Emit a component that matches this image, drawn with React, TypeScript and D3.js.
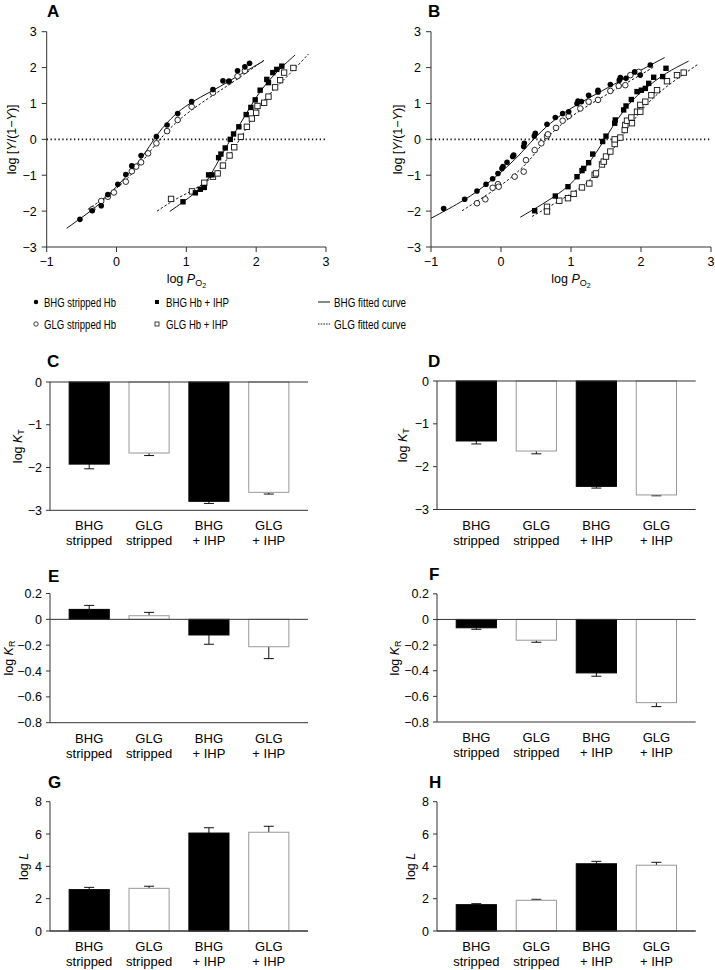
import React from 'react';
import * as d3 from 'd3';

const FONT = '"Liberation Sans", Arial, Helvetica, sans-serif';

type Pt = [number, number];

// ---------- Panel A (Hill plots) ----------
const A_BHG_STRIPPED: Pt[] = [
  [-0.524, -2.23], [-0.348, -1.99], [-0.219, -1.85], [-0.124, -1.54], [0.019, -1.25],
  [0.133, -0.98], [0.219, -0.74], [0.352, -0.45], [0.571, 0.08], [0.724, 0.40],
  [0.876, 0.72], [1.076, 1.05], [1.381, 1.39], [1.524, 1.63], [1.61, 1.62],
  [1.733, 1.91], [1.838, 2.02], [1.905, 2.12],
];
const A_GLG_STRIPPED: Pt[] = [
  [-0.348, -1.95], [-0.219, -1.72], [-0.124, -1.60], [-0.038, -1.48], [0.133, -1.18],
  [0.219, -0.89], [0.281, -0.76], [0.352, -0.64], [0.452, -0.39], [0.571, -0.11],
  [0.724, 0.23], [0.876, 0.54], [1.076, 0.91], [1.381, 1.30], [1.61, 1.61],
  [1.733, 1.76], [1.838, 1.91],
];
const A_BHG_IHP: Pt[] = [
  [0.952, -1.74], [1.129, -1.49], [1.20, -1.39], [1.257, -1.34], [1.319, -0.99],
  [1.367, -0.99], [1.462, -0.51], [1.495, -0.41], [1.557, -0.24], [1.629, 0.0],
  [1.676, 0.15], [1.752, 0.35], [1.857, 0.69], [1.924, 0.89], [1.986, 1.10],
  [2.057, 1.37], [2.152, 1.67], [2.176, 1.58], [2.238, 1.86], [2.295, 1.95], [2.367, 2.04],
];
const A_GLG_IHP: Pt[] = [
  [0.781, -1.66], [1.081, -1.45], [1.257, -1.21], [1.381, -1.04], [1.448, -0.95],
  [1.524, -0.73], [1.619, -0.45], [1.686, -0.22], [1.781, 0.07], [1.867, 0.35],
  [1.938, 0.58], [2.0, 0.74], [2.019, 0.93], [2.114, 1.02], [2.176, 1.19],
  [2.271, 1.45], [2.343, 1.65], [2.40, 1.86], [2.533, 1.99],
];
const A_FIT_BHG_STRIPPED: Pt[] = [
  [-0.714, -2.48], [-0.514, -2.20], [-0.229, -1.80], [0.01, -1.29], [0.248, -0.82],
  [0.438, -0.30], [0.581, 0.14], [0.724, 0.47], [0.914, 0.84], [1.2, 1.18],
  [1.486, 1.47], [1.771, 1.81], [2.105, 2.18],
];
const A_FIT_GLG_STRIPPED: Pt[] = [
  [-0.41, -1.95], [-0.229, -1.71], [-0.038, -1.43], [0.152, -1.11], [0.343, -0.69],
  [0.533, -0.20], [0.724, 0.23], [0.914, 0.585], [1.2, 1.0], [1.486, 1.36],
  [1.771, 1.73], [2.114, 2.21],
];
const A_FIT_BHG_IHP: Pt[] = [
  [0.762, -2.01], [0.952, -1.75], [1.152, -1.46], [1.295, -1.18], [1.414, -0.76],
  [1.533, -0.34], [1.652, 0.06], [1.771, 0.43], [1.89, 0.82], [2.01, 1.21],
  [2.152, 1.58], [2.343, 1.98], [2.557, 2.35],
];
const A_FIT_GLG_IHP: Pt[] = [
  [0.581, -2.0], [0.819, -1.69], [1.057, -1.46], [1.295, -1.18], [1.438, -0.95],
  [1.581, -0.56], [1.70, -0.20], [1.819, 0.17], [1.938, 0.585], [2.057, 0.96],
  [2.2, 1.28], [2.39, 1.65], [2.58, 2.02], [2.748, 2.38],
];

// ---------- Panel B (Hill plots) ----------
const B_BHG_STRIPPED: Pt[] = [
  [-0.819, -1.93], [-0.519, -1.67], [-0.343, -1.44], [-0.214, -1.25], [-0.119, -1.10],
  [-0.043, -0.95], [0.014, -0.81], [0.029, -0.76], [0.086, -0.64], [0.167, -0.48],
  [0.181, -0.44], [0.324, -0.20], [0.333, -0.11], [0.476, 0.09], [0.49, 0.17],
  [0.657, 0.42], [0.776, 0.61], [0.881, 0.72], [0.967, 0.77], [1.086, 1.0],
  [1.10, 1.07], [1.148, 1.05], [1.252, 1.23], [1.386, 1.37], [1.386, 1.32],
  [1.562, 1.53], [1.69, 1.65], [1.705, 1.72], [1.786, 1.70], [1.91, 1.88],
  [1.99, 1.79], [2.133, 2.07],
];
const B_GLG_STRIPPED: Pt[] = [
  [-0.343, -1.78], [-0.224, -1.67], [-0.119, -1.35], [-0.043, -1.25], [-0.033, -1.32],
  [0.195, -1.04], [0.324, -0.90], [0.357, -0.58], [0.481, -0.30], [0.576, -0.11],
  [0.657, 0.09], [0.671, 0.14], [0.786, 0.32], [0.881, 0.52], [0.967, 0.65],
  [1.133, 0.86], [1.252, 1.05], [1.386, 1.10], [1.562, 1.35], [1.681, 1.49],
  [1.776, 1.51], [1.848, 1.79], [1.967, 1.88],
];
const B_BHG_IHP: Pt[] = [
  [0.481, -1.99], [0.776, -1.58], [0.957, -1.32], [1.086, -1.04], [1.157, -0.87],
  [1.181, -0.81], [1.252, -0.65], [1.31, -0.41], [1.452, -0.06], [1.50, 0.09],
  [1.624, 0.45], [1.633, 0.54], [1.752, 0.82], [1.786, 0.93], [1.862, 1.11],
  [1.943, 1.33], [2.005, 1.37], [2.062, 1.42], [2.11, 1.56], [2.181, 1.73],
  [2.31, 1.75], [2.357, 1.98],
];
const B_GLG_IHP: Pt[] = [
  [0.657, -1.88], [0.657, -2.01], [0.833, -1.71], [0.957, -1.64], [1.038, -1.52],
  [1.157, -1.34], [1.262, -1.23], [1.338, -0.99], [1.357, -0.95], [1.443, -0.70],
  [1.467, -0.62], [1.50, -0.48], [1.562, -0.34], [1.624, -0.13], [1.624, 0.0],
  [1.705, 0.05], [1.767, 0.26], [1.776, 0.40], [1.80, 0.52], [1.862, 0.61],
  [1.871, 0.45], [1.943, 0.77], [1.99, 0.77], [1.99, 0.96], [2.062, 1.05],
  [2.148, 1.23], [2.229, 1.37], [2.371, 1.62], [2.514, 1.79], [2.61, 1.86],
];
const B_FIT_BHG_STRIPPED: Pt[] = [
  [-1.0, -2.20], [-0.5, -1.68], [-0.2, -1.25], [0.1, -0.75], [0.3, -0.36],
  [0.45, -0.02], [0.7, 0.46], [1.0, 0.88], [1.3, 1.20], [1.6, 1.52],
  [2.0, 1.93], [2.338, 2.28],
];
const B_FIT_GLG_STRIPPED: Pt[] = [
  [-0.557, -1.99], [-0.2, -1.55], [0.1, -1.15], [0.4, -0.63], [0.6, -0.08],
  [0.8, 0.33], [1.1, 0.78], [1.4, 1.12], [1.7, 1.47], [2.0, 1.80], [2.2, 2.04],
];
const B_FIT_BHG_IHP: Pt[] = [
  [0.276, -2.17], [0.6, -1.80], [0.9, -1.42], [1.1, -1.05], [1.3, -0.55],
  [1.45, -0.10], [1.6, 0.38], [1.75, 0.80], [1.9, 1.15], [2.1, 1.48],
  [2.35, 1.85], [2.68, 2.18],
];
const B_FIT_GLG_IHP: Pt[] = [
  [0.443, -2.15], [0.8, -1.75], [1.1, -1.40], [1.3, -1.10], [1.45, -0.70],
  [1.6, -0.28], [1.75, 0.15], [1.9, 0.55], [2.05, 0.92], [2.25, 1.30],
  [2.5, 1.67], [2.82, 2.10],
];

const HILL_X_TICKS = [-1, 0, 1, 2, 3];
const HILL_Y_TICKS = [3, 2, 1, 0, -1, -2, -3];

// ---------- Bar panels ----------
const CATEGORIES: string[][] = [
  ['BHG', 'stripped'], ['GLG', 'stripped'], ['BHG', '+ IHP'], ['GLG', '+ IHP'],
];
const KT_TICKS = [0, -1, -2, -3];
const KR_TICKS = [0.2, 0, -0.2, -0.4, -0.6, -0.8];
const L_TICKS = [8, 6, 4, 2, 0];

const C_VALUES = [-1.92, -1.66, -2.79, -2.58];
const C_ERRORS = [0.11, 0.06, 0.05, 0.04];
const D_VALUES = [-1.40, -1.635, -2.46, -2.66];
const D_ERRORS = [0.07, 0.065, 0.04, 0.02];
const E_VALUES = [0.077, 0.028, -0.121, -0.212];
const E_ERRORS = [0.031, 0.026, 0.072, 0.092];
const F_VALUES = [-0.065, -0.162, -0.417, -0.649];
const F_ERRORS = [0.012, 0.016, 0.026, 0.031];
const G_VALUES = [2.56, 2.64, 6.06, 6.11];
const G_ERRORS = [0.14, 0.13, 0.33, 0.37];
const H_VALUES = [1.63, 1.90, 4.16, 4.07];
const H_ERRORS = [0.06, 0.06, 0.15, 0.18];

const LEGEND_POINTS = ['BHG stripped Hb', 'GLG stripped Hb', 'BHG Hb + IHP', 'GLG Hb + IHP'];
const LEGEND_CURVES = ['BHG fitted curve', 'GLG fitted curve'];

const fmt = (v: number) => {
  if (Math.abs(v) < 1e-9) return '0';
  const s = String(Math.round(Math.abs(v) * 100) / 100);
  return (v < 0 ? '\u2212' : '') + s;
};

const AXIS = '#333';

type HillProps = {
  x0: number; x1: number; yTop: number; yBot: number;
  letter: string; letterX: number; titleX: number;
  bhgS: Pt[]; glgS: Pt[]; bhgI: Pt[]; glgI: Pt[];
  fits: { pts: Pt[]; dashed: boolean }[];
};

function HillPanel(p: HillProps) {
  const x = d3.scaleLinear().domain([-1, 3]).range([p.x0, p.x1]);
  const y = d3.scaleLinear().domain([-3, 3]).range([p.yBot, p.yTop]);
  const line = d3.line<Pt>().x(d => x(d[0])).y(d => y(d[1])).curve(d3.curveBasis);
  const r = 2.8;
  const s = 5.4;
  return (
    <g>
      <text x={p.letterX} y={17} fontSize={17} fontWeight="bold" fontFamily={FONT}>{p.letter}</text>
      <line x1={p.x0} x2={p.x1} y1={y(0)} y2={y(0)} stroke="#111" strokeWidth={1.6} strokeDasharray="1.3,2.6" />
      <line x1={p.x0} x2={p.x0} y1={p.yTop} y2={p.yBot} stroke={AXIS} strokeWidth={1} />
      <line x1={p.x0} x2={p.x1} y1={p.yBot} y2={p.yBot} stroke={AXIS} strokeWidth={1} />
      {HILL_Y_TICKS.map(t => (
        <g key={'yt' + t}>
          <line x1={p.x0 - 5} x2={p.x0} y1={y(t)} y2={y(t)} stroke={AXIS} />
          <text x={p.x0 - 10} y={y(t)} dy="0.36em" textAnchor="end" fontSize={12.5} fontFamily={FONT}>{fmt(t)}</text>
        </g>
      ))}
      {HILL_X_TICKS.map(t => (
        <g key={'xt' + t}>
          <line x1={x(t)} x2={x(t)} y1={p.yBot} y2={p.yBot + 5} stroke={AXIS} />
          <text x={x(t)} y={p.yBot + 19} textAnchor="middle" fontSize={12.5} fontFamily={FONT}>{fmt(t)}</text>
        </g>
      ))}
      <text transform={`translate(${p.titleX},${(p.yTop + p.yBot) / 2}) rotate(-90)`} textAnchor="middle"
        dominantBaseline="central" fontSize={12.5} fontFamily={FONT}>
        log [<tspan fontStyle="italic">Y</tspan>/(1{'\u2212'}<tspan fontStyle="italic">Y</tspan>)]
      </text>
      <text x={(p.x0 + p.x1) / 2} y={283} textAnchor="middle" fontSize={12.5} fontFamily={FONT}>
        log <tspan fontStyle="italic">P</tspan><tspan fontSize={9} dy={3}>O</tspan><tspan fontSize={7} dy={2}>2</tspan>
      </text>
      {p.fits.map((f, i) => (
        <path key={'f' + i} d={line(f.pts) || ''} fill="none" stroke="#111" strokeWidth={1}
          strokeDasharray={f.dashed ? '2.5,2' : undefined} />
      ))}
      {p.glgS.map((d, i) => (
        <circle key={'gs' + i} cx={x(d[0])} cy={y(d[1])} r={r} fill="#fff" stroke="#111" strokeWidth={0.9} />
      ))}
      {p.bhgS.map((d, i) => (
        <circle key={'bs' + i} cx={x(d[0])} cy={y(d[1])} r={r} fill="#000" />
      ))}
      {p.glgI.map((d, i) => (
        <rect key={'gi' + i} x={x(d[0]) - s / 2} y={y(d[1]) - s / 2} width={s} height={s} fill="#fff" stroke="#111" strokeWidth={0.9} />
      ))}
      {p.bhgI.map((d, i) => (
        <rect key={'bi' + i} x={x(d[0]) - s / 2} y={y(d[1]) - s / 2} width={s} height={s} fill="#000" />
      ))}
    </g>
  );
}

type BarProps = {
  x0: number; x1: number; yTop: number; yBot: number;
  domain: [number, number]; ticks: number[];
  values: number[]; errors: number[];
  letter: string; letterX: number; letterY: number; titleX: number;
  sub?: string; sym: string;
};

function BarPanel(p: BarProps) {
  const x = d3.scaleBand<number>().domain(CATEGORIES.map((_, i) => i)).range([p.x0, p.x1])
    .paddingInner(0.33).paddingOuter(0.32);
  const y = d3.scaleLinear().domain(p.domain).range([p.yBot, p.yTop]);
  const y0 = y(0);
  return (
    <g>
      <text x={p.letterX} y={p.letterY} fontSize={17} fontWeight="bold" fontFamily={FONT}>{p.letter}</text>
      {p.values.map((v, i) => {
        const bx = x(i) as number;
        const bw = x.bandwidth();
        const yv = y(v);
        const black = i % 2 === 0;
        const end = v + Math.sign(v) * p.errors[i];
        const cx = bx + bw / 2;
        return (
          <g key={'b' + i}>
            <line x1={cx} x2={cx} y1={yv} y2={y(end)} stroke="#111" strokeWidth={1} />
            <line x1={cx - 5} x2={cx + 5} y1={y(end)} y2={y(end)} stroke="#111" strokeWidth={1} />
            <rect x={bx} y={Math.min(yv, y0)} width={bw} height={Math.abs(yv - y0)}
              fill={black ? '#000' : '#fff'} stroke={black ? '#000' : '#999'} strokeWidth={1} />
          </g>
        );
      })}
      <line x1={p.x0} x2={p.x1} y1={y0} y2={y0} stroke={AXIS} strokeWidth={1} />
      <line x1={p.x0} x2={p.x1} y1={p.yBot} y2={p.yBot} stroke={AXIS} strokeWidth={1} />
      <line x1={p.x0} x2={p.x0} y1={p.yTop} y2={p.yBot} stroke={AXIS} strokeWidth={1} />
      {p.ticks.map(t => (
        <g key={'t' + t}>
          <line x1={p.x0 - 4} x2={p.x0} y1={y(t)} y2={y(t)} stroke={AXIS} />
          <text x={p.x0 - 8} y={y(t)} dy="0.36em" textAnchor="end" fontSize={12.5} fontFamily={FONT}>{fmt(t)}</text>
        </g>
      ))}
      {CATEGORIES.map((c, i) => {
        const cx = (x(i) as number) + x.bandwidth() / 2;
        return (
          <text key={'c' + i} x={cx} textAnchor="middle" fontSize={13} fontFamily={FONT}>
            <tspan x={cx} y={p.yBot + 20}>{c[0]}</tspan>
            <tspan x={cx} y={p.yBot + 35}>{c[1]}</tspan>
          </text>
        );
      })}
      <text transform={`translate(${p.titleX},${(p.yTop + p.yBot) / 2}) rotate(-90)`} textAnchor="middle"
        dominantBaseline="central" fontSize={12.5} fontFamily={FONT}>
        log <tspan fontStyle="italic">{p.sym}</tspan>
        {p.sub ? <tspan fontSize={9} dy={3}>{p.sub}</tspan> : null}
      </text>
    </g>
  );
}

function Legend() {
  const rows = [302, 324];
  return (
    <g fontFamily={FONT} fontSize={13.5}>
      <circle cx={36} cy={rows[0]} r={2.2} fill="#000" />
      <circle cx={36} cy={rows[1]} r={2.2} fill="#fff" stroke="#111" strokeWidth={0.8} />
      <rect x={155} y={rows[0] - 2} width={4} height={4} fill="#000" />
      <rect x={155} y={rows[1] - 2} width={4} height={4} fill="#fff" stroke="#111" strokeWidth={0.8} />
      <text x={44} y={rows[0] + 4.8} textLength={72} lengthAdjust="spacingAndGlyphs">{LEGEND_POINTS[0]}</text>
      <text x={44} y={rows[1] + 4.8} textLength={72} lengthAdjust="spacingAndGlyphs">{LEGEND_POINTS[1]}</text>
      <text x={166} y={rows[0] + 4.8} textLength={63} lengthAdjust="spacingAndGlyphs">{LEGEND_POINTS[2]}</text>
      <text x={166} y={rows[1] + 4.8} textLength={62} lengthAdjust="spacingAndGlyphs">{LEGEND_POINTS[3]}</text>
      <line x1={318} x2={330} y1={rows[0]} y2={rows[0]} stroke="#111" strokeWidth={1} />
      <line x1={318} x2={330} y1={rows[1]} y2={rows[1]} stroke="#111" strokeWidth={1} strokeDasharray="1.5,1.2" />
      <text x={334} y={rows[0] + 4.8} textLength={72} lengthAdjust="spacingAndGlyphs">{LEGEND_CURVES[0]}</text>
      <text x={334} y={rows[1] + 4.8} textLength={72} lengthAdjust="spacingAndGlyphs">{LEGEND_CURVES[1]}</text>
    </g>
  );
}

export default function App() {
  return (
    <svg width={715} height={970} style={{ position: 'absolute', left: 0, top: 0, background: '#fff' }}
      xmlns="http://www.w3.org/2000/svg">
      <rect width={715} height={970} fill="#fff" />
      <HillPanel x0={46.7} x1={326} yTop={31.7} yBot={247} letter="A" letterX={47} titleX={12}
        bhgS={A_BHG_STRIPPED} glgS={A_GLG_STRIPPED} bhgI={A_BHG_IHP} glgI={A_GLG_IHP}
        fits={[
          { pts: A_FIT_BHG_STRIPPED, dashed: false }, { pts: A_FIT_GLG_STRIPPED, dashed: true },
          { pts: A_FIT_BHG_IHP, dashed: false }, { pts: A_FIT_GLG_IHP, dashed: true },
        ]} />
      <HillPanel x0={431} x1={711} yTop={31.7} yBot={247} letter="B" letterX={428} titleX={398}
        bhgS={B_BHG_STRIPPED} glgS={B_GLG_STRIPPED} bhgI={B_BHG_IHP} glgI={B_GLG_IHP}
        fits={[
          { pts: B_FIT_BHG_STRIPPED, dashed: false }, { pts: B_FIT_GLG_STRIPPED, dashed: true },
          { pts: B_FIT_BHG_IHP, dashed: false }, { pts: B_FIT_GLG_IHP, dashed: true },
        ]} />
      <Legend />
      <BarPanel x0={50} x1={308} yTop={382} yBot={510.3} domain={[-3, 0]} ticks={KT_TICKS}
        values={C_VALUES} errors={C_ERRORS} letter="C" letterX={47} letterY={367} titleX={18} sym="K" sub="T" />
      <BarPanel x0={437} x1={695.7} yTop={381} yBot={509.5} domain={[-3, 0]} ticks={KT_TICKS}
        values={D_VALUES} errors={D_ERRORS} letter="D" letterX={428} letterY={367} titleX={403} sym="K" sub="T" />
      <BarPanel x0={50} x1={308} yTop={593.5} yBot={722.7} domain={[-0.8, 0.2]} ticks={KR_TICKS}
        values={E_VALUES} errors={E_ERRORS} letter="E" letterX={48} letterY={582} titleX={9} sym="K" sub="R" />
      <BarPanel x0={437} x1={695.7} yTop={593.8} yBot={722} domain={[-0.8, 0.2]} ticks={KR_TICKS}
        values={F_VALUES} errors={F_ERRORS} letter="F" letterX={429} letterY={580} titleX={395} sym="K" sub="R" />
      <BarPanel x0={50} x1={308} yTop={801.7} yBot={931} domain={[0, 8]} ticks={L_TICKS}
        values={G_VALUES} errors={G_ERRORS} letter="G" letterX={48} letterY={788} titleX={24} sym="L" />
      <BarPanel x0={437} x1={695.7} yTop={801.7} yBot={931} domain={[0, 8]} ticks={L_TICKS}
        values={H_VALUES} errors={H_ERRORS} letter="H" letterX={429} letterY={788} titleX={411} sym="L" />
    </svg>
  );
}
